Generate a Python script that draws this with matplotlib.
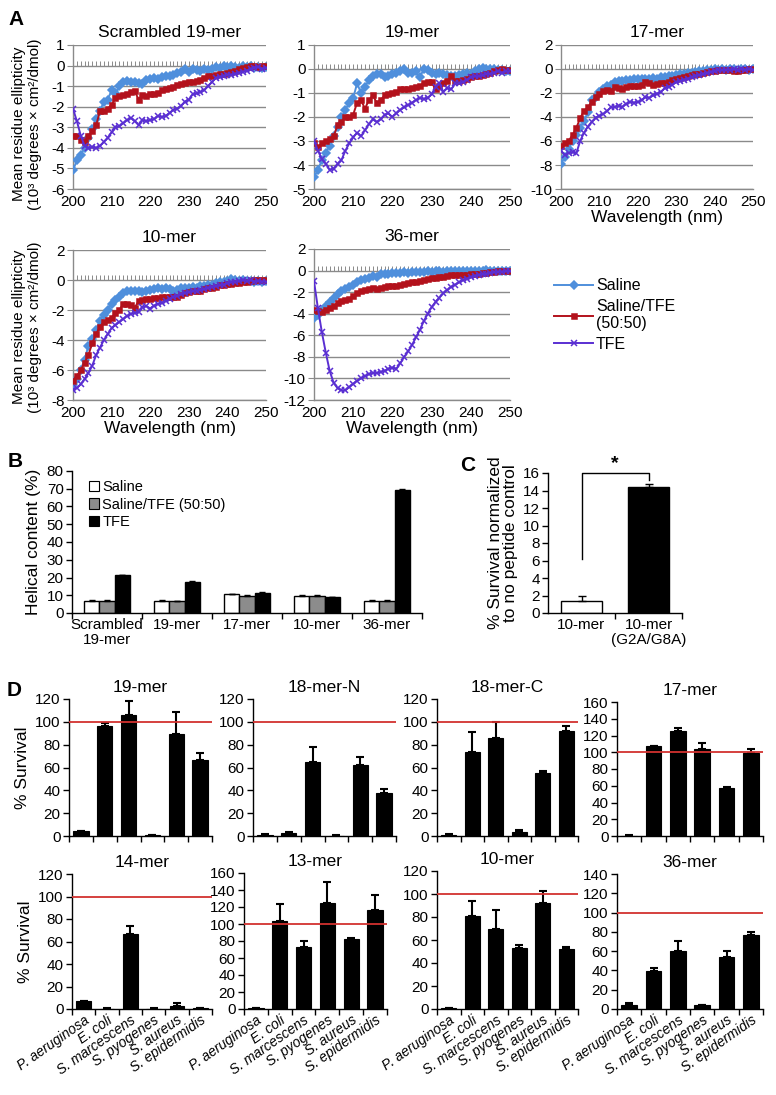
import numpy as np
import matplotlib
matplotlib.use('Agg')
import matplotlib.pyplot as plt
from matplotlib.lines import Line2D
from matplotlib.patches import Patch

plt.rcParams['font.family'] = ['Liberation Sans', 'DejaVu Sans']
plt.rcParams['axes.unicode_minus'] = False

W, H = 776, 1095

# ---------------- panel A: CD spectra, one value per nm (10^3 deg cm2/dmol)
wavelength = np.arange(200, 251)

scr_saline = [-5.1, -4.6, -4.35, -4.0, -3.5, -3.1, -2.6, -2.2, -1.75, -1.65,
              -1.2, -1.35, -1.0, -0.8, -0.75, -0.8, -0.8, -0.85, -0.9, -0.7,
              -0.65, -0.6, -0.65, -0.55, -0.5, -0.5, -0.45, -0.35, -0.3, -0.15,
              -0.3, -0.15, -0.2, -0.25, -0.15, -0.2, -0.15, -0.05, -0.1, 0.0,
              -0.05, 0.0, -0.05, -0.1, 0.0, -0.05, 0.0, -0.1, -0.05, -0.1, -0.05]
scr_mix = [-3.4, -3.4, -3.6, -3.7, -3.4, -3.2, -2.9, -2.2, -2.2, -2.1,
           -1.9, -1.6, -1.5, -1.45, -1.4, -1.3, -1.25, -1.65, -1.45, -1.5,
           -1.4, -1.4, -1.35, -1.2, -1.15, -1.1, -1.05, -0.95, -0.9, -0.85,
           -0.8, -0.8, -0.75, -0.7, -0.6, -0.5, -0.5, -0.45, -0.4, -0.4,
           -0.35, -0.3, -0.25, -0.15, -0.1, -0.05, 0.0, 0.0, -0.05, 0.0, 0.0]
scr_tfe = [-2.1, -2.7, -3.4, -3.9, -4.0, -3.95, -4.0, -3.9, -3.7, -3.5,
           -3.25, -3.0, -2.95, -2.8, -2.65, -2.55, -2.7, -2.9, -2.65, -2.7,
           -2.65, -2.6, -2.45, -2.5, -2.45, -2.3, -2.15, -2.1, -1.95, -1.75,
           -1.65, -1.4, -1.35, -1.3, -1.2, -1.0, -0.8, -0.6, -0.55, -0.5,
           -0.45, -0.45, -0.4, -0.35, -0.3, -0.25, -0.15, -0.1, -0.05, -0.15, -0.1]

m19_saline = [-4.5, -4.2, -3.8, -3.5, -3.2, -2.8, -2.4, -2.0, -1.7, -1.4,
              -1.2, -0.6, -1.0, -0.75, -0.45, -0.3, -0.2, -0.2, -0.35, -0.3,
              -0.2, -0.15, -0.1, 0.0, -0.15, -0.15, -0.1, -0.35, 0.0, -0.05,
              -0.15, -0.2, -0.15, -0.2, -0.25, -0.3, -0.3, -0.25, -0.2, -0.15,
              -0.2, -0.1, 0.0, 0.05, 0.0, 0.0, 0.0, -0.05, -0.05, -0.1, -0.1]
m19_mix = [-3.1, -3.25, -3.1, -3.0, -2.9, -2.8, -2.35, -2.2, -2.0, -2.0,
           -1.9, -1.4, -1.3, -1.65, -1.3, -1.1, -1.4, -1.3, -1.1, -1.05,
           -1.0, -0.95, -0.85, -0.85, -0.85, -0.8, -0.75, -0.7, -0.6, -0.55,
           -0.55, -0.85, -0.7, -0.6, -0.5, -0.3, -0.5, -0.5, -0.45, -0.4,
           -0.35, -0.3, -0.3, -0.25, -0.2, -0.15, -0.1, -0.05, 0.0, -0.05, -0.05]
m19_tfe = [-3.0, -3.4, -3.75, -3.95, -4.2, -4.15, -3.95, -3.8, -3.4, -3.1,
           -2.85, -2.65, -2.8, -2.55, -2.3, -2.1, -2.2, -2.1, -1.9, -1.85,
           -2.0, -1.85, -1.7, -1.6, -1.5, -1.4, -1.3, -1.2, -1.25, -1.2,
           -1.05, -0.75, -0.6, -0.95, -0.8, -0.85, -0.6, -0.6, -0.55, -0.45,
           -0.35, -0.3, -0.3, -0.25, -0.2, -0.2, -0.15, -0.1, -0.15, -0.1, -0.1]

m17_saline = [-7.9, -7.3, -6.7, -6.0, -5.5, -4.9, -4.3, -3.6, -2.6, -2.3,
              -1.9, -1.7, -1.4, -1.3, -1.1, -1.0, -1.0, -0.95, -0.9, -0.85,
              -0.8, -0.85, -0.8, -0.8, -0.75, -0.8, -0.7, -0.65, -0.6, -0.55,
              -0.5, -0.45, -0.4, -0.35, -0.3, -0.25, -0.2, -0.15, -0.1, -0.05,
              0.0, -0.05, 0.0, -0.05, 0.0, 0.0, -0.05, 0.0, 0.0, -0.05, 0.0]
m17_mix = [-6.45, -6.2, -6.0, -5.5, -4.9, -4.1, -3.5, -3.2, -2.75, -2.35,
           -2.1, -1.8, -1.75, -1.8, -1.5, -1.6, -1.65, -1.5, -1.45, -1.4,
           -1.4, -1.35, -1.1, -1.2, -1.3, -1.25, -1.15, -1.15, -1.05, -0.95,
           -0.85, -0.75, -0.65, -0.55, -0.5, -0.45, -0.4, -0.3, -0.25, -0.2,
           -0.15, -0.1, -0.1, -0.05, -0.1, -0.15, -0.2, -0.1, -0.05, 0.0, 0.0]
m17_tfe = [-6.8, -7.15, -7.0, -6.95, -7.0, -6.0, -5.3, -4.8, -4.4, -4.05,
           -3.9, -3.75, -3.5, -3.2, -3.15, -3.1, -3.15, -2.9, -2.75, -2.8,
           -2.75, -2.6, -2.35, -2.4, -2.2, -2.05, -1.9, -1.6, -1.5, -1.3,
           -1.1, -1.0, -0.9, -0.8, -0.7, -0.6, -0.5, -0.45, -0.35, -0.25,
           -0.15, -0.1, -0.1, -0.05, -0.05, 0.0, -0.05, 0.0, -0.05, 0.0, -0.05]

m10_saline = [-7.0, -6.6, -6.0, -5.3, -4.4, -3.9, -3.3, -2.7, -2.3, -2.0,
              -1.6, -1.3, -1.1, -0.85, -0.75, -0.7, -0.7, -0.75, -0.8, -0.75,
              -0.65, -0.6, -0.55, -0.6, -0.55, -0.6, -0.7, -0.65, -0.55, -0.5,
              -0.5, -0.45, -0.5, -0.4, -0.4, -0.35, -0.3, -0.2, -0.15, -0.1,
              -0.05, 0.05, 0.0, -0.05, 0.0, -0.05, -0.05, -0.1, -0.05, -0.1, -0.05]
m10_mix = [-6.7, -6.4, -6.0, -5.5, -5.0, -4.2, -3.6, -3.1, -2.8, -2.65,
           -2.5, -2.2, -2.0, -1.6, -1.6, -1.65, -1.85, -1.4, -1.3, -1.25,
           -1.25, -1.2, -1.2, -1.15, -1.15, -1.1, -1.1, -1.1, -1.0, -0.85,
           -0.8, -0.75, -0.7, -0.7, -0.6, -0.55, -0.5, -0.45, -0.35, -0.3,
           -0.25, -0.25, -0.2, -0.2, -0.15, -0.1, -0.05, 0.0, 0.0, 0.0, 0.0]
m10_tfe = [-7.3, -7.2, -6.95, -6.6, -6.2, -5.7, -5.0, -4.5, -4.0, -3.6,
           -3.2, -3.0, -2.8, -2.6, -2.4, -2.25, -2.2, -2.15, -1.8, -1.75,
           -1.9, -1.7, -1.6, -1.5, -1.4, -1.25, -1.1, -1.05, -0.95, -0.85,
           -0.8, -0.75, -0.7, -0.65, -0.6, -0.5, -0.45, -0.4, -0.35, -0.3,
           -0.2, -0.15, -0.1, -0.05, 0.0, -0.05, 0.0, -0.1, -0.05, -0.1, -0.1]

m36_saline = [-4.4, -4.1, -3.7, -3.3, -2.9, -2.5, -2.2, -1.9, -1.7, -1.5,
              -1.3, -1.1, -0.9, -0.8, -0.65, -0.5, -0.55, -0.35, -0.3, -0.3,
              -0.25, -0.2, -0.2, -0.15, -0.2, -0.15, -0.1, -0.1, -0.15, -0.05,
              -0.1, -0.05, -0.05, -0.1, 0.0, -0.05, -0.05, 0.0, 0.0, -0.05,
              0.0, 0.0, -0.05, 0.0, 0.05, 0.0, 0.0, -0.05, 0.0, 0.0, 0.0]
m36_mix = [-3.7, -3.75, -3.8, -3.65, -3.5, -3.3, -3.0, -2.8, -2.7, -2.6,
           -2.4, -2.1, -1.85, -1.8, -1.7, -1.6, -1.75, -1.6, -1.5, -1.45,
           -1.4, -1.45, -1.3, -1.25, -1.15, -1.05, -1.1, -0.95, -0.9, -0.75,
           -0.7, -0.65, -0.6, -0.55, -0.5, -0.45, -0.4, -0.4, -0.45, -0.4,
           -0.35, -0.35, -0.3, -0.25, -0.2, -0.15, -0.1, -0.05, 0.0, 0.0, 0.0]
m36_tfe = [-1.0, -3.5, -5.7, -7.6, -9.3, -10.4, -10.9, -11.1, -11.1, -10.8,
           -10.5, -10.2, -10.0, -9.8, -9.6, -9.5, -9.5, -9.4, -9.3, -9.1,
           -9.0, -9.1, -8.6, -8.0, -7.5, -6.9, -6.2, -5.5, -4.7, -4.0,
           -3.4, -2.9, -2.5, -2.1, -1.8, -1.5, -1.3, -1.1, -0.9, -0.75,
           -0.6, -0.5, -0.4, -0.35, -0.3, -0.2, -0.15, -0.1, -0.1, -0.05, -0.05]

# ---------------- panel B: helical content (%)
peptides_b = ['Scrambled\n19-mer', '19-mer', '17-mer', '10-mer', '36-mer']
helix_saline = [7.0, 6.8, 10.6, 9.6, 6.9]
helix_mix = [7.0, 6.5, 9.8, 9.6, 7.0]
helix_tfe = [21.2, 17.6, 11.4, 8.8, 69.5]
helix_saline_err = [0.3, 0.3, 0.3, 0.3, 0.3]
helix_mix_err = [0.3, 0.3, 0.3, 0.3, 0.3]
helix_tfe_err = [0.3, 0.3, 0.3, 0.3, 0.3]

# ---------------- panel C
peptides_c = ['10-mer', '10-mer\n(G2A/G8A)']
surv_c = [1.4, 14.4]
surv_c_err = [0.5, 0.3]

# ---------------- panel D: % survival
bacteria = ['P. aeruginosa', 'E. coli', 'S. marcescens', 'S. pyogenes', 'S. aureus', 'S. epidermidis']
d_titles = ['19-mer', '18-mer-N', '18-mer-C', '17-mer', '14-mer', '13-mer', '10-mer', '36-mer']
d_ymax = [120, 120, 120, 160, 120, 160, 120, 140]
d_vals = [[4, 96, 106, 0.5, 89, 67],
          [1, 2.5, 65, 0.3, 62, 38],
          [1, 74, 86, 3.5, 55, 92],
          [0.5, 107, 125, 104, 57, 99],
          [7, 0.3, 67, 0.3, 3, 0.5],
          [1, 104, 73, 125, 82, 116],
          [0.5, 81, 70, 53, 92, 52],
          [4, 39, 60, 4, 54, 77]]
d_errs = [[0.5, 3, 12, 0.2, 20, 6],
          [0.5, 1, 13, 0.2, 7, 3],
          [0.5, 17, 14, 1.5, 2, 4],
          [0.3, 1, 4, 7, 2, 5],
          [0.5, 0.2, 7, 0.2, 2, 0.3],
          [0.3, 20, 7, 25, 2, 18],
          [0.3, 13, 16, 3, 11, 2],
          [2, 4, 11, 0.5, 6, 3]]

C_SAL, C_MIX, C_TFE = '#4f8fdc', '#b3121c', '#5a2fd2'
GRID = '#8a8a8a'
MARKERS = ['D', 's', 'x']
MSIZES = [3.6, 3.6, 4.4]

fig = plt.figure(figsize=(W / 100, H / 100), dpi=100)


def add_ax(left, top, right, bottom):
    return fig.add_axes([left / W, 1 - bottom / H, (right - left) / W, (bottom - top) / H])


def cd_panel(box, title, curves, ylim, step, xlabel=False):
    ax = add_ax(*box)
    for vals, c, m, ms in zip(curves, [C_SAL, C_MIX, C_TFE], MARKERS, MSIZES):
        ax.plot(wavelength, vals, color=c, marker=m, ms=ms, mew=1.1, lw=1.4, zorder=3)
    ax.plot(wavelength, np.zeros(len(wavelength)), ls='none', marker=2, ms=3.5,
            color=GRID, mew=0.7, zorder=2)
    ax.set_xlim(200, 250)
    ax.set_ylim(*ylim)
    ax.set_yticks(np.arange(ylim[0], ylim[1] + 0.01, step))
    ax.set_xticks([200, 210, 220, 230, 240, 250])
    ax.yaxis.grid(True, color=GRID, lw=1)
    ax.set_axisbelow(True)
    for s in ['top', 'right']:
        ax.spines[s].set_visible(False)
    for s in ['left', 'bottom']:
        ax.spines[s].set_color(GRID)
        ax.spines[s].set_linewidth(1)
    ax.tick_params(axis='x', length=0, pad=4, labelsize=11)
    ax.tick_params(axis='y', length=4, color=GRID, labelsize=11, pad=2)
    ax.set_title(title, fontsize=12.5, pad=6)
    if xlabel:
        ax.set_xlabel('Wavelength (nm)', fontsize=12.5, labelpad=1)
    return ax


cd_panel((73, 45, 266, 189), 'Scrambled 19-mer', [scr_saline, scr_mix, scr_tfe], (-6, 1), 1)
cd_panel((314, 45, 510, 189), '19-mer', [m19_saline, m19_mix, m19_tfe], (-5, 1), 1)
cd_panel((561, 45, 753, 189), '17-mer', [m17_saline, m17_mix, m17_tfe], (-10, 2), 2, xlabel=True)
cd_panel((73, 250, 266, 400), '10-mer', [m10_saline, m10_mix, m10_tfe], (-8, 2), 2, xlabel=True)
cd_panel((314, 249, 510, 400), '36-mer', [m36_saline, m36_mix, m36_tfe], (-12, 2), 2, xlabel=True)

cd_label = 'Mean residue ellipticity\n(10³ degrees × cm²/dmol)'
for yc in [124, 327]:
    fig.text(27 / W, 1 - yc / H, cd_label, rotation=90, ha='center', va='center',
             fontsize=11, linespacing=1.1)

handles = [Line2D([], [], color=c, marker=m, ms=ms, mew=1.1, lw=1.4)
           for c, m, ms in zip([C_SAL, C_MIX, C_TFE], MARKERS, MSIZES)]
fig.legend(handles, ['Saline', 'Saline/TFE\n(50:50)', 'TFE'], loc='upper left',
           bbox_to_anchor=(548 / W, 1 - 272 / H), frameon=False, fontsize=11.5,
           handlelength=2.4, handletextpad=0.2, labelspacing=0.35, borderaxespad=0)


def prism(ax):
    for s in ['top', 'right']:
        ax.spines[s].set_visible(False)
    for s in ['left', 'bottom']:
        ax.spines[s].set_linewidth(1)
    ax.tick_params(axis='y', length=4, width=1, labelsize=11, pad=2)
    ax.tick_params(axis='x', which='major', length=0, labelsize=11)
    ax.tick_params(axis='x', which='minor', length=4, width=1)


# ---------------- panel B
axb = add_ax(72, 471, 422, 613)
xb = np.arange(len(peptides_b))
bw = 0.22
for off, vals, errs, fc in [(-bw, helix_saline, helix_saline_err, 'white'),
                            (0, helix_mix, helix_mix_err, '#8c8c8c'),
                            (bw, helix_tfe, helix_tfe_err, 'black')]:
    axb.bar(xb + off, vals, bw, color=fc, edgecolor='black', lw=1)
    axb.errorbar(xb + off, vals, yerr=[np.zeros(len(errs)), errs], fmt='none',
                 ecolor='black', elinewidth=1, capsize=2)
axb.set_xlim(-0.5, 4.5)
axb.set_ylim(0, 80)
axb.set_yticks(np.arange(0, 81, 10))
axb.set_xticks(xb)
axb.set_xticklabels(peptides_b, linespacing=1.1)
axb.set_xticks(np.arange(-0.5, 4.6, 1), minor=True)
prism(axb)
axb.set_ylabel('Helical content (%)', fontsize=12.5, labelpad=4)
axb.legend([Patch(facecolor=c, edgecolor='black', lw=0.8) for c in ['white', '#8c8c8c', 'black']],
           ['Saline', 'Saline/TFE (50:50)', 'TFE'], loc='upper left',
           bbox_to_anchor=(0.01, 1.03), frameon=False, fontsize=10.5,
           handlelength=0.7, handleheight=0.7, handletextpad=0.25, labelspacing=0.25)

# ---------------- panel C
axc = add_ax(548, 473, 682, 613)
xc = np.arange(len(peptides_c))
axc.bar(xc, surv_c, 0.61, color=['white', 'black'], edgecolor='black', lw=1)
axc.errorbar(xc, surv_c, yerr=[np.zeros(2), surv_c_err], fmt='none', ecolor='black',
             elinewidth=1, capsize=3)
axc.set_xlim(-0.5, 1.5)
axc.set_ylim(0, 16)
axc.set_yticks(np.arange(0, 17, 2))
axc.set_xticks(xc)
axc.set_xticklabels(peptides_c, linespacing=1.1)
axc.set_xticks([0.5, 1.5], minor=True)
prism(axc)
axc.set_ylabel('% Survival normalized\nto no peptide control', fontsize=12.5,
               linespacing=1.05, labelpad=3)
br_top = 16
axc.plot([0, 0, 1, 1], [surv_c[0] + 4.8, br_top, br_top, surv_c[1] + surv_c_err[1] + 0.5],
         color='black', lw=1, clip_on=False)
axc.text(0.5, br_top + 0.1, '*', ha='center', va='bottom', fontsize=14, fontweight='bold')

# ---------------- panel D
d_boxes = [(69, 699, 212, 836), (253, 699, 396, 836), (437, 699, 578, 836), (617, 702, 763, 836),
           (72, 874, 212, 1009), (244, 873, 387, 1009), (437, 871, 578, 1009), (617, 874, 763, 1009)]
xd = np.arange(len(bacteria))
for i, (box, title, ymax, vals, errs) in enumerate(zip(d_boxes, d_titles, d_ymax, d_vals, d_errs)):
    ax = add_ax(*box)
    ax.bar(xd, vals, 0.64, color='black', edgecolor='black', lw=0.8)
    ax.errorbar(xd, vals, yerr=[np.zeros(len(errs)), errs], fmt='none', ecolor='black',
                elinewidth=1.5, capsize=3, capthick=1.5)
    ax.axhline(100, color='#d2312f', lw=1.3, zorder=4)
    ax.set_xlim(-0.5, 5.5)
    ax.set_ylim(0, ymax)
    ax.set_yticks(np.arange(0, ymax + 1, 20))
    ax.set_xticks(np.arange(-0.5, 5.6, 1), minor=True)
    ax.set_xticks(xd)
    prism(ax)
    if i >= 4:
        ax.set_xticklabels(bacteria, rotation=35, ha='right', rotation_mode='anchor',
                           fontstyle='italic', fontsize=10)
        ax.tick_params(axis='x', which='major', pad=3)
    else:
        ax.set_xticklabels([])
    ax.set_title(title, fontsize=12.5, pad=5)
    if i % 4 == 0:
        ax.set_ylabel('% Survival', fontsize=12.5, labelpad=4)

for letter, x, y in [('A', 8, 10), ('B', 8, 452), ('C', 460, 456), ('D', 7, 681)]:
    fig.text(x / W, 1 - y / H, letter, fontsize=15, fontweight='bold', va='top', ha='left')

fig.savefig('out.png', dpi=100, facecolor='white')
